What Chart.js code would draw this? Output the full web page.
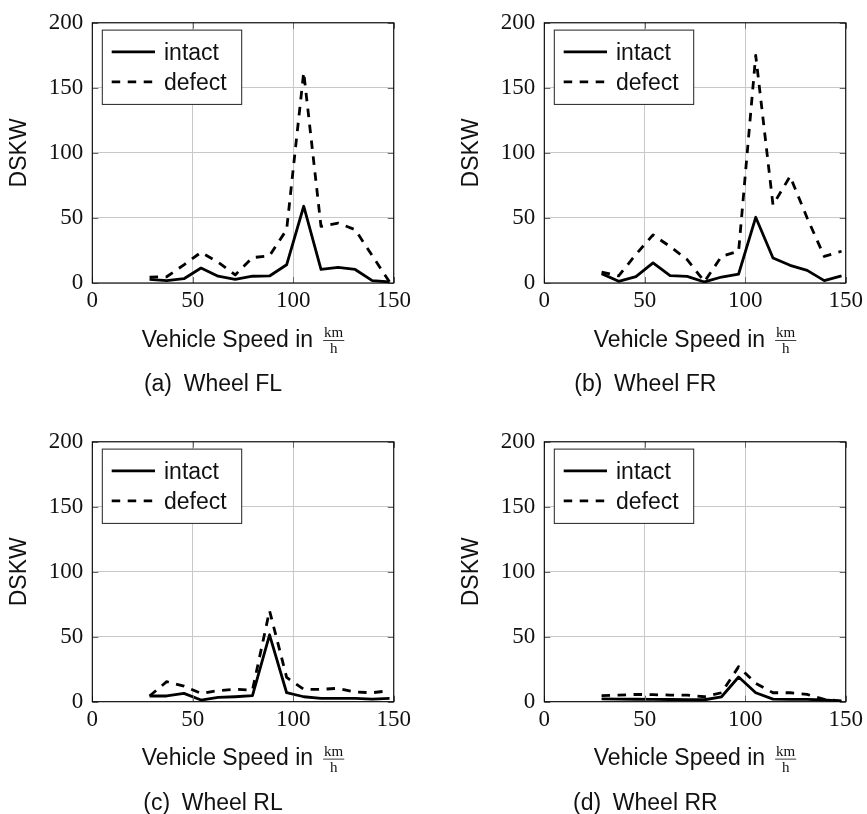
<!DOCTYPE html>
<html>
<head>
<meta charset="utf-8">
<script src="https://cdn.jsdelivr.net/npm/chart.js@4.4.1/dist/chart.umd.min.js"></script>
<style>
  html, body { margin: 0; padding: 0; background: #fff; width: 867px; height: 814px; overflow: hidden; position: relative; }
  canvas { position: absolute; }
</style>
</head>
<body>
<canvas id="wheelFL" width="415" height="419" style="left:0px;top:0px"></canvas>
<canvas id="wheelFR" width="415" height="419" style="left:451.7px;top:0px"></canvas>
<canvas id="wheelRL" width="415" height="395" style="left:0px;top:419px"></canvas>
<canvas id="wheelRR" width="415" height="395" style="left:451.7px;top:419px"></canvas>
<script>
// Vehicle speed bins (km/h)
const speeds = [28.5, 37.0, 45.6, 54.1, 62.6, 71.1, 79.7, 88.2, 96.7, 105.2, 113.8, 122.3, 130.8, 139.3, 147.9];

// DSKW per wheel
const flIntact = [2.8, 1.8, 3.3, 11.5, 5.2, 2.8, 5.2, 5.4, 14.0, 59.0, 10.4, 12.0, 10.4, 1.8, 0.8];
const flDefect = [4.5, 4.8, 14.0, 23.5, 16.0, 6.2, 19.5, 21.0, 41.0, 162.0, 43.5, 46.0, 41.0, 21.0, 0.8];
const frIntact = [7.2, 1.3, 4.9, 15.4, 5.6, 5.1, 0.8, 4.6, 6.9, 50.5, 19.2, 13.6, 9.7, 1.8, 5.4];
const frDefect = [8.3, 5.5, 22.0, 37.0, 28.0, 18.0, 1.0, 20.5, 24.4, 175.0, 60.0, 82.0, 50.0, 20.5, 24.4];
const rlIntact = [4.4, 4.4, 6.4, 1.3, 3.3, 3.8, 4.6, 51.5, 6.9, 3.8, 2.6, 2.6, 2.6, 2.0, 2.6];
const rlDefect = [4.4, 15.4, 12.0, 6.4, 8.5, 9.5, 9.0, 70.0, 18.7, 9.5, 9.5, 10.3, 7.4, 6.9, 8.5];
const rrIntact = [2.2, 2.0, 1.9, 1.8, 1.7, 1.6, 1.5, 3.8, 19.0, 6.9, 2.0, 1.8, 1.8, 1.3, 0.5];
const rrDefect = [4.6, 5.1, 5.6, 5.4, 5.1, 5.1, 3.8, 6.9, 27.0, 14.1, 6.9, 6.9, 5.6, 1.8, 0.5];

const seriesNames = ['intact', 'defect'];
const xTicks = [0, 50, 100, 150];
const yTicks = [0, 50, 100, 150, 200];
const xTitle = 'Vehicle Speed in';
const unitTop = 'km';
const unitBottom = 'h';
const yTitle = 'DSKW';

const SANS = '"Liberation Sans", Arial, Helvetica, sans-serif';
const SERIF = '"Liberation Serif", "Times New Roman", serif';

// Frame, inward ticks, boxed legend, fraction axis title and sub-caption
const pgfFrame = {
  id: 'pgfFrame',
  afterDatasetsDraw(chart) {
    const { ctx, chartArea: a, scales } = chart;
    ctx.save();
    ctx.strokeStyle = '#6a6a6a';
    ctx.lineWidth = 1;
    const tl = 6;
    ctx.beginPath();
    scales.x.ticks.forEach(t => {
      const px = Math.round(scales.x.getPixelForValue(t.value)) + 0.5;
      ctx.moveTo(px, a.bottom); ctx.lineTo(px, a.bottom - tl);
      ctx.moveTo(px, a.top); ctx.lineTo(px, a.top + tl);
    });
    scales.y.ticks.forEach(t => {
      const py = Math.round(scales.y.getPixelForValue(t.value)) + 0.5;
      ctx.moveTo(a.left, py); ctx.lineTo(a.left + tl, py);
      ctx.moveTo(a.right, py); ctx.lineTo(a.right - tl, py);
    });
    ctx.stroke();

    ctx.strokeStyle = '#000';
    ctx.lineWidth = 1.1;
    ctx.strokeRect(a.left, a.top, a.right - a.left, a.bottom - a.top);

    // legend box
    const lx = a.left + 10, ly = a.top + 7.3;
    ctx.fillStyle = '#fff';
    ctx.fillRect(lx, ly, 139.4, 74.3);
    ctx.strokeStyle = '#222';
    ctx.lineWidth = 1;
    ctx.strokeRect(lx, ly, 139.4, 74.3);
    chart.data.datasets.forEach((ds, i) => {
      const yLine = a.top + 29 + i * 30;
      ctx.beginPath();
      ctx.setLineDash(ds.borderDash || []);
      ctx.lineWidth = ds.borderWidth;
      ctx.strokeStyle = ds.borderColor;
      ctx.moveTo(a.left + 19.4, yLine);
      ctx.lineTo(a.left + 62.7, yLine);
      ctx.stroke();
      ctx.setLineDash([]);
      ctx.fillStyle = '#111';
      ctx.font = '23px ' + SANS;
      ctx.textAlign = 'left';
      ctx.textBaseline = 'alphabetic';
      ctx.fillText(ds.label, a.left + 71.7, a.top + 36.8 + i * 30);
    });
    ctx.restore();
  },
  afterDraw(chart, args, opts) {
    const { ctx, chartArea: a } = chart;
    ctx.save();
    ctx.fillStyle = '#111';
    ctx.textBaseline = 'alphabetic';
    ctx.textAlign = 'left';

    // x axis title with unit fraction
    ctx.font = '23px ' + SANS;
    const wTxt = ctx.measureText(xTitle).width;
    ctx.font = '15px ' + SERIF;
    const wKm = ctx.measureText(unitTop).width;
    const wH = ctx.measureText(unitBottom).width;
    const barW = wKm + 2;
    const gap = 10;
    const cx = (a.left + a.right) / 2;
    const x0 = cx - (wTxt + gap + barW) / 2;
    ctx.font = '23px ' + SANS;
    ctx.fillText(xTitle, x0, a.bottom + 63.7);
    const fx = x0 + wTxt + gap;
    ctx.font = '15px ' + SERIF;
    ctx.fillText(unitTop, fx + (barW - wKm) / 2, a.bottom + 54.3);
    ctx.fillText(unitBottom, fx + (barW - wH) / 2, a.bottom + 70.3);
    ctx.fillRect(fx, a.bottom + 57, barW, 0.8);

    // sub-caption
    ctx.font = '23px ' + SANS;
    const w1 = ctx.measureText(opts.tag).width;
    const w2 = ctx.measureText(opts.caption).width;
    const cGap = 11.7;
    const c0 = a.left + opts.captionCenter - (w1 + cGap + w2) / 2;
    ctx.fillText(opts.tag, c0, a.bottom + 108.3);
    ctx.fillText(opts.caption, c0 + w1 + cGap, a.bottom + 108.3);
    ctx.restore();
  }
};

function points(values) {
  return speeds.map((s, i) => ({ x: s, y: values[i] }));
}

function makeChart(id, intact, defect, tag, caption, captionCenter, axisHeight) {
  const tickFont = { family: SERIF, size: 23 };
  return new Chart(document.getElementById(id), {
    type: 'line',
    data: {
      datasets: [
        { label: seriesNames[0], data: points(intact), borderColor: '#000', borderWidth: 2.8,
          borderDash: [], pointRadius: 0, tension: 0, borderJoinStyle: 'round' },
        { label: seriesNames[1], data: points(defect), borderColor: '#000', borderWidth: 2.8,
          borderDash: [8.5, 7.5], pointRadius: 0, tension: 0, borderJoinStyle: 'round' }
      ]
    },
    options: {
      responsive: false,
      animation: false,
      events: [],
      layout: { padding: { top: 22.7, right: 19.7, left: 0, bottom: 0 } },
      scales: {
        x: {
          type: 'linear', min: 0, max: 150,
          afterBuildTicks: s => { s.ticks = xTicks.map(v => ({ value: v })); },
          afterFit: s => { s.height = axisHeight; },
          ticks: { font: tickFont, color: '#111', padding: 4, maxRotation: 0 },
          grid: { color: '#c8c8c8', lineWidth: 1, drawTicks: false },
          border: { display: false }
        },
        y: {
          type: 'linear', min: 0, max: 200,
          afterBuildTicks: s => { s.ticks = yTicks.map(v => ({ value: v })); },
          afterFit: s => { s.width = 92.3; },
          ticks: { font: tickFont, color: '#111', padding: 9 },
          grid: { color: '#c8c8c8', lineWidth: 1, drawTicks: false },
          border: { display: false },
          title: { display: true, text: yTitle, color: '#111',
                   font: { family: SANS, size: 23 }, padding: { top: 6, bottom: 0 } }
        }
      },
      plugins: {
        legend: { display: false },
        tooltip: { enabled: false },
        pgfFrame: { tag: tag, caption: caption, captionCenter: captionCenter }
      }
    },
    plugins: [pgfFrame]
  });
}

makeChart('wheelFL', flIntact, flDefect, '(a)', 'Wheel FL', 120.7, 136);
makeChart('wheelFR', frIntact, frDefect, '(b)', 'Wheel FR', 101, 136);
makeChart('wheelRL', rlIntact, rlDefect, '(c)', 'Wheel RL', 120.7, 112.3);
makeChart('wheelRR', rrIntact, rrDefect, '(d)', 'Wheel RR', 101, 112.3);
</script>
</body>
</html>
